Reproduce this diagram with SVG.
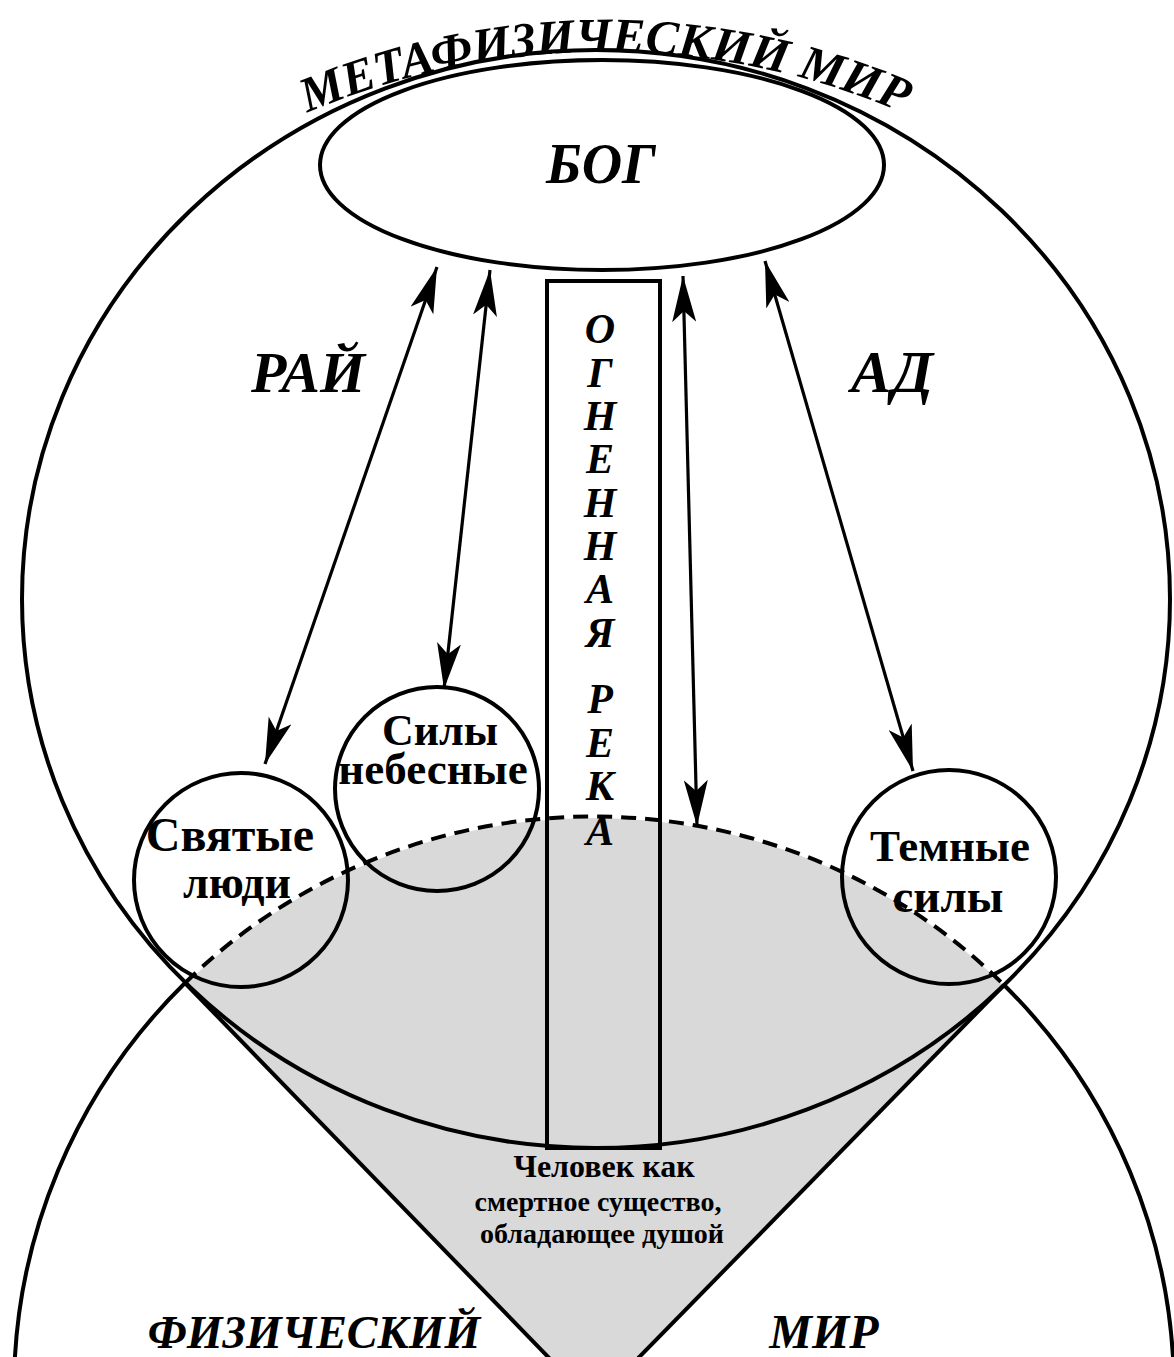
<svg xmlns="http://www.w3.org/2000/svg" width="1174" height="1357" viewBox="0 0 1174 1357">
<style>
.ln{fill:none;stroke:#000;stroke-width:4}
.arr{fill:none;stroke:#000;stroke-width:3.2;marker-start:url(#ah);marker-end:url(#ah)}
.bi{font-family:"Liberation Serif","Times New Roman",serif;font-weight:bold;font-style:italic;fill:#000}
.b{font-family:"Liberation Serif","Times New Roman",serif;font-weight:bold;fill:#000}
</style>
<defs>
<marker id="ah" viewBox="0 0 46 24" refX="46" refY="12" markerWidth="46" markerHeight="24" markerUnits="userSpaceOnUse" orient="auto-start-reverse">
<path d="M0,0 L46,12 L0,24 L11,12 z" fill="#000"/>
</marker>
<clipPath id="lowClip"><ellipse cx="594" cy="1392" rx="580" ry="574"/></clipPath>
<path id="titlePath" d="M 250 140 A 760 760 0 0 1 960 140"/>
</defs>
<rect width="1174" height="1357" fill="#fff"/>

<g id="soul-region">
<polygon points="593.5,1403.7 -200,586.6 -200,-100 1400,-100 1400,581" fill="#d9d9d9" clip-path="url(#lowClip)"/>
</g>

<g id="metaphysical-world">
<ellipse class="ln" cx="596" cy="599" rx="574" ry="549"/>
<text class="bi" font-size="49"><textPath href="#titlePath" startOffset="50%" text-anchor="middle">МЕТАФИЗИЧЕСКИЙ МИР</textPath></text>
</g>

<g id="physical-world">
<path class="ln" d="M185,983 A580,574 0 0,1 1004,985" stroke-dasharray="15,9"/>
<path class="ln" d="M185,983 A580,574 0 0,0 14,1392"/>
<path class="ln" d="M1004,985 A580,574 0 0,1 1174,1392"/>
<line class="ln" x1="185" y1="983" x2="593.5" y2="1403.7"/>
<line class="ln" x1="1004" y1="985" x2="593.5" y2="1403.7"/>
<text class="bi" font-size="46" x="314" y="1348" text-anchor="middle">ФИЗИЧЕСКИЙ</text>
<text class="bi" font-size="48" x="824" y="1348" text-anchor="middle">МИР</text>
</g>

<g id="god">
<ellipse class="ln" cx="602" cy="165" rx="282" ry="105" fill="#fff"/>
<text class="bi" font-size="56" x="601" y="183" text-anchor="middle">БОГ</text>
</g>

<g id="paradise"><text class="bi" font-size="58" x="308" y="392" text-anchor="middle">РАЙ</text></g>
<g id="hell"><text class="bi" font-size="60" x="892" y="392" text-anchor="middle">АД</text></g>

<g id="fiery-river">
<rect class="ln" x="547" y="281" width="113" height="867"/>
<g class="bi" font-size="42" text-anchor="middle">
<text x="600" y="343">О</text>
<text x="600" y="387">Г</text>
<text x="600" y="430">Н</text>
<text x="600" y="473">Е</text>
<text x="600" y="517">Н</text>
<text x="600" y="560">Н</text>
<text x="600" y="603">А</text>
<text x="600" y="647">Я</text>
<text x="600" y="713">Р</text>
<text x="600" y="757">Е</text>
<text x="600" y="800">К</text>
<text x="600" y="845">А</text>
</g>
</g>

<g id="saints">
<circle class="ln" cx="241" cy="880" r="107"/>
<text class="b" font-size="48" x="230" y="851" text-anchor="middle">Святые</text>
<text class="b" font-size="46" x="237" y="898" text-anchor="middle">люди</text>
</g>

<g id="heavenly-powers">
<circle class="ln" cx="437" cy="789" r="102"/>
<text class="b" font-size="44" x="440" y="745" text-anchor="middle">Силы</text>
<text class="b" font-size="45" x="433" y="784" text-anchor="middle">небесные</text>
</g>

<g id="dark-forces">
<circle class="ln" cx="949" cy="877" r="107"/>
<text class="b" font-size="45" x="950" y="861" text-anchor="middle">Темные</text>
<text class="b" font-size="47" x="948" y="912" text-anchor="middle">силы</text>
</g>

<g id="man">
<text class="b" font-size="32" x="604" y="1177" text-anchor="middle">Человек как</text>
<text class="b" font-size="28" x="598" y="1211" text-anchor="middle">смертное существо,</text>
<text class="b" font-size="28" x="602" y="1243" text-anchor="middle">обладающее душой</text>
</g>

<g id="connectors">
<line class="arr" x1="265" y1="764" x2="437" y2="267"/>
<line class="arr" x1="444" y1="689" x2="490" y2="270"/>
<line class="arr" x1="697" y1="826" x2="683" y2="276"/>
<line class="arr" x1="913" y1="771" x2="765" y2="261"/>
</g>
</svg>
